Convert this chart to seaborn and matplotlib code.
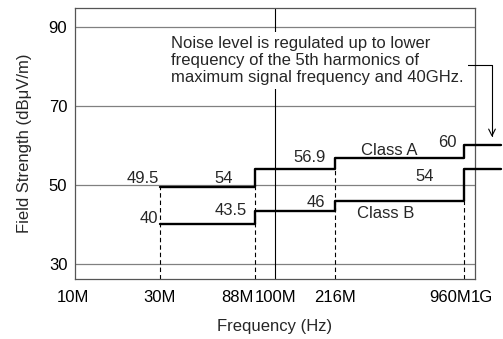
import numpy as np
import pandas as pd
import seaborn as sns
import matplotlib.pyplot as plt
from matplotlib.transforms import ScaledTranslation

# limit steps (frequency in Hz, level in dBuV/m)
class_a_freq = [30e6, 88e6, 216e6, 960e6, 1.1e9]
class_a_level = [49.5, 54, 56.9, 60, 60]
class_b_freq = [30e6, 88e6, 216e6, 960e6, 1.1e9]
class_b_level = [40, 43.5, 46, 54, 54]

# dashed guides at the band edges and the level they reach
guide_freq = [30e6, 88e6, 216e6, 960e6]
guide_top = [49.5, 49.5, 54, 46]

tick_freq = [10e6, 30e6, 88e6, 100e6, 216e6, 960e6, 1e9]
tick_labels = ["10M", "30M", "88M", "100M", "216M", "960M", "1G"]
y_ticks = [30, 50, 70, 90]

note = ("Noise level is regulated up to lower\n"
        "frequency of the 5th harmonics of\n"
        "maximum signal frequency and 40GHz.")

# the frequency axis is schematic: piecewise log between tick positions
scale_pos = np.array([0.0, 0.2125, 0.45, 0.5, 0.65, 0.9725, 1.0])
scale_log = np.log10(tick_freq)


def _interp(x, xp, fp):
    x = np.asarray(x, dtype=float)
    y = np.interp(x, xp, fp)
    lo_slope = (fp[1] - fp[0]) / (xp[1] - xp[0])
    hi_slope = (fp[-1] - fp[-2]) / (xp[-1] - xp[-2])
    y = np.where(x < xp[0], fp[0] + (x - xp[0]) * lo_slope, y)
    y = np.where(x > xp[-1], fp[-1] + (x - xp[-1]) * hi_slope, y)
    return y


def fwd(f):
    return _interp(np.log10(np.clip(f, 1e-3, None)), scale_log, scale_pos)


def inv(p):
    return 10 ** _interp(p, scale_pos, scale_log)


df = pd.concat([
    pd.DataFrame({"freq": class_a_freq, "level": class_a_level, "cls": "Class A"}),
    pd.DataFrame({"freq": class_b_freq, "level": class_b_level, "cls": "Class B"}),
])

sns.set_theme(style="white")
plt.rcParams["font.family"] = ["Liberation Sans", "DejaVu Sans"]
FS = 12

fig = plt.figure(figsize=(5.03, 3.39), dpi=100)
ax = fig.add_axes([75 / 503, 1 - 279 / 339, 400 / 503, 271 / 339])

ylim = (26.2, 94.7)
ax.vlines(guide_freq, ylim[0], guide_top, colors="black", lw=0.8,
          linestyles=(0, (4, 2.7)), zorder=2)
ax.axvline(100e6, color="black", lw=0.8, zorder=1)

sns.lineplot(data=df, x="freq", y="level", hue="cls", palette=["black", "black"],
             drawstyle="steps-post", lw=1.7, legend=False, errorbar=None,
             ax=ax, zorder=3)
for ln in ax.get_lines():
    ln.set_clip_on(False)

ax.set_xscale("function", functions=(fwd, inv))
ax.set_xlim(10e6, 1e9)
ax.set_ylim(*ylim)
ax.set_xticks(tick_freq, tick_labels)
ax.minorticks_off()
ax.set_yticks(y_ticks)
ax.yaxis.grid(True, color="#808080", lw=0.9)
ax.xaxis.grid(False)
ax.tick_params(axis="both", length=0, labelsize=FS, colors="black")
ax.tick_params(axis="x", pad=8)
ax.tick_params(axis="y", pad=5.5)
for sp in ax.spines.values():
    sp.set_color("#555555")
    sp.set_linewidth(0.9)

# crowded tick labels are nudged apart like in the original drawing
tick_nudge = {"10M": ("center", -2), "88M": ("right", -1), "100M": ("center", 1),
              "960M": ("right", 7), "1G": ("left", -4)}
for lab in ax.get_xticklabels():
    if lab.get_text() in tick_nudge:
        ha, dx = tick_nudge[lab.get_text()]
        lab.set_ha(ha)
        lab.set_transform(lab.get_transform()
                          + ScaledTranslation(dx / 100, 0, fig.dpi_scale_trans))

ax.set_xlabel("Frequency (Hz)", fontsize=FS, labelpad=10)
ax.set_ylabel("Field Strength (dBμV/m)", fontsize=FS, labelpad=12)

# value labels, placed to the left of each step
label_offsets_a = [(-1, 4), (-22, 4), (-9, 7), (-7, 11)]
label_offsets_b = [(-2, 1), (-8, 9), (-10, 4), (-30, 20)]
for freqs, levels, offs in [(class_a_freq, class_a_level, label_offsets_a),
                            (class_b_freq, class_b_level, label_offsets_b)]:
    for i, (dx, dy) in enumerate(offs):
        prev = levels[i - 1] if i > 0 else levels[0]
        ax.annotate(f"{levels[i]:g}", xy=(freqs[i], prev), xytext=(dx, dy),
                    textcoords="offset pixels", ha="right", va="baseline",
                    fontsize=FS)

ax.annotate("Class A", xy=(216e6, 56.9), xytext=(54, 3), textcoords="offset pixels",
            ha="center", va="baseline", fontsize=FS)
ax.annotate("Class B", xy=(216e6, 46), xytext=(51, -17), textcoords="offset pixels",
            ha="center", va="baseline", fontsize=FS)

ax.text(0.24, 0.895, note, transform=ax.transAxes, ha="left", va="top",
        fontsize=FS, linespacing=1.15, zorder=4,
        bbox=dict(facecolor="white", edgecolor="none", pad=3))
ax.annotate("", xy=(1.0425, 0.524), xytext=(0.945, 0.7897),
            xycoords="axes fraction", annotation_clip=False,
            arrowprops=dict(arrowstyle="->,head_length=0.4,head_width=0.2",
                            connectionstyle="angle,angleA=0,angleB=90,rad=0",
                            shrinkA=0, shrinkB=0, lw=0.8, color="black"))

fig.savefig("out.png", dpi=100)
